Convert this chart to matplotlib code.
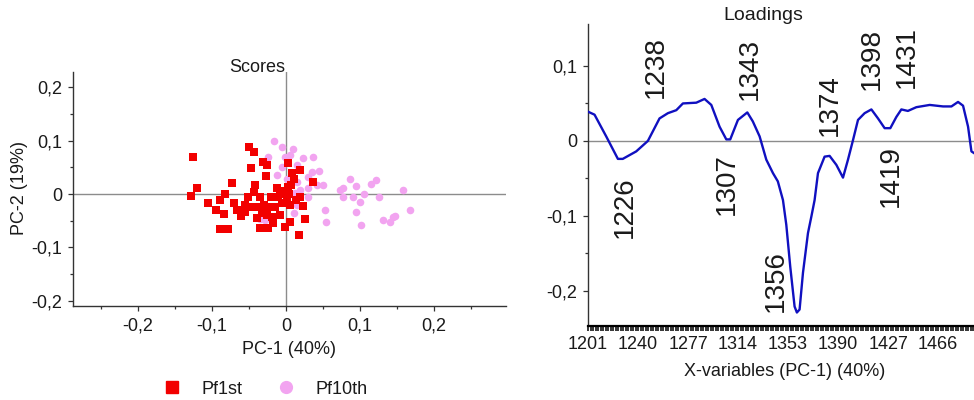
import numpy as np
import matplotlib
matplotlib.use("Agg")
import matplotlib.pyplot as plt
from matplotlib.lines import Line2D
from matplotlib.ticker import FixedLocator, NullFormatter

plt.rcParams['font.family'] = ['Liberation Sans', 'DejaVu Sans']

# ---------------- Scores (PC-1 vs PC-2) ----------------
pf1st_pc1 = [-0.126, -0.120, -0.129, -0.105, -0.095, -0.089, -0.082, -0.073, -0.084, -0.089,
             -0.079, -0.071, -0.066, -0.061, -0.055, -0.050, -0.043, -0.048, -0.042, -0.044,
             -0.051, -0.046, -0.031, -0.026, -0.027, -0.035, -0.036, -0.033, -0.035, -0.024,
             -0.026, -0.022, -0.021, -0.013, -0.015, -0.008, -0.001, -0.006, -0.004, 0.002,
             0.003, 0.008, 0.010, 0.019, 0.005, 0.005, 0.017, 0.019, 0.023, 0.026,
             0.036, 0.004, -0.019, -0.011, 0.001, 0.013, -0.030, -0.040, -0.018, -0.009,
             0.006, -0.056]
pf1st_pc2 = [0.070, 0.011, -0.003, -0.017, -0.029, -0.011, 0.001, 0.020, -0.038, -0.066,
             -0.066, -0.017, -0.030, -0.041, -0.033, 0.089, 0.078, 0.048, 0.017, 0.003,
             -0.005, -0.024, 0.061, 0.054, 0.033, -0.005, -0.024, -0.036, -0.063, -0.064,
             -0.039, -0.024, -0.005, 0.011, -0.024, -0.039, -0.061, -0.017, 0.001, 0.014,
             0.058, 0.040, 0.028, 0.045, -0.021, -0.052, -0.077, -0.005, -0.023, -0.046,
             0.023, 0.000, -0.043, -0.005, -0.012, -0.011, -0.020, -0.045, -0.055, 0.005,
             0.017, -0.020]

pf10th_pc1 = [-0.017, -0.006, 0.009, 0.005, -0.001, -0.024, 0.023, 0.036, -0.012, 0.001,
              0.035, 0.044, 0.030, 0.042, 0.050, 0.014, 0.019, 0.030, 0.073, 0.077,
              0.077, 0.086, 0.090, 0.095, 0.100, 0.105, 0.114, 0.121, 0.126, 0.158,
              0.167, 0.052, 0.054, 0.095, 0.101, 0.131, 0.140, 0.144, 0.147, 0.014,
              0.010, -0.035, -0.028, 0.030, 0.015, -0.005, 0.012]
pf10th_pc2 = [0.100, 0.089, 0.084, 0.073, 0.069, 0.069, 0.067, 0.069, 0.036, 0.029,
              0.042, 0.044, 0.032, 0.017, 0.017, 0.023, 0.008, -0.005, 0.008, 0.011,
              -0.006, 0.029, -0.005, 0.016, -0.014, 0.000, 0.018, 0.026, -0.005, 0.008,
              -0.030, -0.030, -0.052, -0.034, -0.058, -0.048, -0.052, -0.043, -0.041, -0.021,
              -0.036, -0.046, -0.049, 0.011, 0.055, 0.050, 0.002]

score_ticks = [-0.2, -0.1, 0.0, 0.1, 0.2]
score_tick_labels = ['-0,2', '-0,1', '0', '0,1', '0,2']
series_names = ['Pf1st', 'Pf10th']

# ---------------- Loadings (PC-1) ----------------
wavenumber = [1201.0, 1206.1, 1215.2, 1224.3, 1228.1, 1238.6, 1247.3, 1255.9, 1262.1, 1268.3,
              1273.2, 1283.1, 1289.2, 1294.2, 1300.3, 1305.3, 1308.2, 1313.9, 1321.2, 1325.5,
              1330.8, 1336.0, 1341.2, 1345.0, 1349.0, 1351.6, 1354.6, 1357.8, 1359.5, 1361.5,
              1364.0, 1367.7, 1370.2, 1372.6, 1375.1, 1380.0, 1383.7, 1388.7, 1393.6, 1397.3,
              1401.0, 1404.7, 1409.6, 1414.6, 1419.5, 1424.4, 1428.7, 1433.4, 1437.3, 1442.4,
              1449.0, 1459.4, 1469.6, 1475.8, 1480.7, 1484.4, 1488.1, 1490.6, 1492.3]
loading = [0.039, 0.035, 0.006, -0.024, -0.024, -0.014, 0.000, 0.030, 0.037, 0.041,
           0.050, 0.051, 0.056, 0.048, 0.019, 0.002, 0.002, 0.028, 0.038, 0.026,
           0.006, -0.025, -0.043, -0.054, -0.079, -0.112, -0.168, -0.221, -0.229, -0.225,
           -0.176, -0.123, -0.101, -0.079, -0.043, -0.021, -0.020, -0.032, -0.049, -0.025,
           0.001, 0.028, 0.037, 0.042, 0.030, 0.017, 0.017, 0.032, 0.042, 0.040,
           0.045, 0.048, 0.046, 0.046, 0.052, 0.047, 0.019, -0.014, -0.016]

x_tick_values = [1201, 1240, 1277, 1314, 1353, 1390, 1427, 1466]
loading_ticks = [-0.2, -0.1, 0.0, 0.1]
loading_tick_labels = ['-0,2', '-0,1', '0', '0,1']
peak_values = [1226, 1238, 1307, 1343, 1356, 1374, 1398, 1419, 1431]

# label placement for the peak annotations: (bottom of text in loading units, shift in pixels)
peak_label_bottom = [-0.129, 0.057, -0.099, 0.055, -0.228, 0.006, 0.068, -0.088, 0.070]
peak_label_shift = [4.5, 20.8, -1.7, -25.0, -16.5, 13.0, 23.4, 13.3, 13.7]

TEXT = '#1a1a1a'
AXIS = '#333333'
ZERO = '#8c8c8c'
RED = '#f20000'
PINK = '#f2a4f0'
BLUE = '#1010c0'

W, H = 974, 400
fig = plt.figure(figsize=(W / 100, H / 100), dpi=100)


def px_axes(left, top, right, bottom):
    return fig.add_axes([left / W, 1 - bottom / H, (right - left) / W, (bottom - top) / H])


def style_axes(ax):
    for s in ('top', 'right'):
        ax.spines[s].set_visible(False)
    for s in ('left', 'bottom'):
        ax.spines[s].set_color(AXIS)
        ax.spines[s].set_linewidth(1.0)
    ax.tick_params(which='both', direction='out', colors=AXIS, labelcolor=TEXT,
                   labelsize=13, width=0.9)
    ax.tick_params(which='major', length=3.5, pad=4)
    ax.tick_params(which='minor', length=2.5)


# ---------- Scores ----------
ax1 = px_axes(73, 72, 506, 306)
style_axes(ax1)
ax1.set_xlim(-0.288, 0.297)
ax1.set_ylim(-0.21, 0.229)
ax1.axhline(0, color=ZERO, lw=1.0, zorder=1)
ax1.axvline(0, color=ZERO, lw=1.0, zorder=1)
ax1.scatter(pf10th_pc1, pf10th_pc2, s=30, marker='o', color=PINK, linewidths=0, zorder=2)
ax1.scatter(pf1st_pc1, pf1st_pc2, s=36, marker='s', color=RED, linewidths=0, zorder=3)
ax1.set_xticks(score_ticks)
ax1.set_xticklabels(score_tick_labels)
ax1.set_yticks(score_ticks)
ax1.set_yticklabels(score_tick_labels)
ax1.xaxis.set_minor_locator(FixedLocator([-0.25, -0.15, -0.05, 0.05, 0.15, 0.25]))
ax1.yaxis.set_minor_locator(FixedLocator([-0.15, -0.05, 0.05, 0.15]))
ax1.tick_params(axis='x', pad=5)
fig.text(257 / W, 1 - 68 / H, 'Scores', ha='center', va='center', fontsize=13, color=TEXT)
fig.text(289 / W, 1 - 350 / H, 'PC-1 (40%)', ha='center', va='center', fontsize=13, color=TEXT)
fig.text(20 / W, 1 - 188 / H, 'PC-2 (19%)', ha='center', va='center', fontsize=13,
         rotation=90, color=TEXT)

handles = [Line2D([], [], ls='none', marker='s', ms=9, color=RED, mec=RED),
           Line2D([], [], ls='none', marker='o', ms=8.5, color=PINK, mec=PINK)]
fig.legend(handles, series_names, loc='center', bbox_to_anchor=(261 / W, 1 - 389 / H),
           ncol=2, frameon=False, fontsize=13, handletextpad=0.65, columnspacing=1.4,
           labelcolor=TEXT)

# ---------- Loadings ----------
tick_idx = np.arange(len(x_tick_values), dtype=float)
anchor_wl = np.r_[x_tick_values[0] - 39, x_tick_values, x_tick_values[-1] + 37]
anchor_idx = np.r_[-1.0, tick_idx, float(len(x_tick_values))]


def to_index(w):
    return np.interp(w, anchor_wl, anchor_idx)


def to_wavenumber(i):
    return np.interp(i, anchor_idx, anchor_wl)


ax2 = px_axes(588, 24, W, 326)
style_axes(ax2)
ax2.set_xscale('function', functions=(to_index, to_wavenumber))
ax2.set_xlim(1201, 1492.5)
ax2.set_ylim(-0.247, 0.156)
ax2.axhline(0, color=ZERO, lw=1.0, zorder=1)
ax2.plot(wavenumber, loading, color=BLUE, lw=1.7, zorder=3)
ax2.xaxis.set_major_locator(FixedLocator(x_tick_values))
ax2.set_xticklabels([str(v) for v in x_tick_values])
ax2.xaxis.set_minor_locator(FixedLocator(to_wavenumber(np.arange(0, 7.72, 0.05))))
ax2.xaxis.set_minor_formatter(NullFormatter())
ax2.tick_params(axis='x', which='both', length=3.5, width=1.1, colors='#000000',
                labelcolor=TEXT, pad=4)
ax2.spines['bottom'].set_color('#000000')
ax2.spines['bottom'].set_linewidth(1.6)
ax2.set_yticks(loading_ticks)
ax2.set_yticklabels(loading_tick_labels)
ax2.yaxis.set_minor_locator(FixedLocator([-0.15, -0.05, 0.05]))

for val, yb, dx in zip(peak_values, peak_label_bottom, peak_label_shift):
    ax2.annotate(str(val), xy=(val, yb), xytext=(dx, 0), textcoords='offset pixels',
                 rotation=90, ha='center', va='bottom', fontsize=20, color=TEXT,
                 annotation_clip=False)

fig.text(763 / W, 1 - 16 / H, 'Loadings', ha='center', va='center', fontsize=14, color=TEXT)
fig.text(785 / W, 1 - 372 / H, 'X-variables (PC-1) (40%)', ha='center', va='center',
         fontsize=13, color=TEXT)

fig.savefig('out.png', dpi=100)
